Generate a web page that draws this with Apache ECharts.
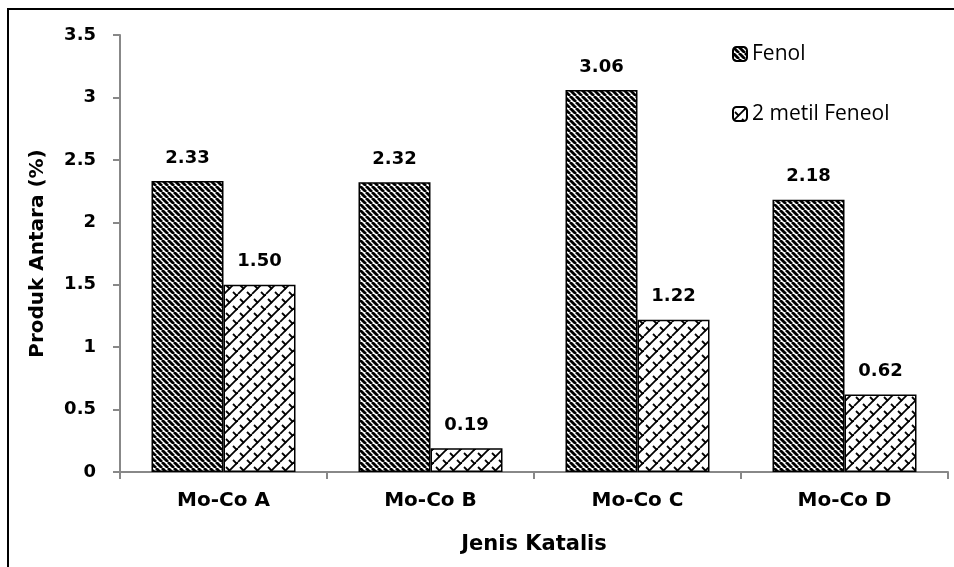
<!DOCTYPE html>
<html><head><meta charset="utf-8">
<script src="https://cdn.jsdelivr.net/npm/echarts@6/dist/echarts.min.js"></script>
<style>html,body{margin:0;padding:0;background:#fff}#c{width:954px;height:567px}</style>
</head><body><div id="c"></div>
<script>
const categories = ['Mo-Co A', 'Mo-Co B', 'Mo-Co C', 'Mo-Co D'];
const fenol = [2.33, 2.32, 3.06, 2.18];
const metilFenol = [1.50, 0.19, 1.22, 0.62];
const seriesNames = ['Fenol', '2 metil Feneol'];
const yTicks = [0, 0.5, 1, 1.5, 2, 2.5, 3, 3.5];

function stripePattern() {
  const c = document.createElement('canvas');
  c.width = 6; c.height = 6;
  const g = c.getContext('2d');
  g.fillStyle = '#fff'; g.fillRect(0, 0, 6, 6);
  g.strokeStyle = '#000'; g.lineWidth = 2.8;
  for (let k = -12; k <= 12; k += 6) {
    g.beginPath(); g.moveTo(k, 0); g.lineTo(k + 6, 6); g.stroke();
  }
  return c;
}
function brickPattern() {
  const s = 14;
  const c = document.createElement('canvas');
  c.width = s; c.height = s;
  const g = c.getContext('2d');
  g.fillStyle = '#fff'; g.fillRect(0, 0, s, s);
  g.strokeStyle = '#000'; g.lineWidth = 1.8;
  for (let k = -2 * s; k <= 2 * s; k += s) {
    g.beginPath(); g.moveTo(k, s); g.lineTo(k + s, 0); g.stroke();
  }
  const seg = (x, y) => { g.beginPath(); g.moveTo(x, y); g.lineTo(x + 4, y + 4); g.stroke(); };
  seg(2, 5); seg(9, 12); seg(9, -2); seg(-5, 5); seg(16, 5);
  return c;
}

const chart = echarts.init(document.getElementById('c'), null, {renderer: 'canvas'});
const boldFont = 'DejaVu Sans';
const labelCommon = {
  show: true, position: 'top', distance: 14,
  fontFamily: boldFont, fontWeight: 'bold', fontSize: 18, color: '#000',
  formatter: p => p.value.toFixed(2)
};
chart.setOption({
  animation: false,
  graphic: [{
    type: 'rect', shape: {x: 8, y: 9, width: 960, height: 580},
    style: {fill: 'none', stroke: '#000', lineWidth: 2}, z: -1
  }],
  grid: {left: 120, right: 6, top: 35, bottom: 95},
  legend: {
    orient: 'vertical', left: 727, top: 38,
    itemWidth: 14, itemHeight: 14, itemGap: 38,
    textStyle: {fontFamily: 'Open Sans', fontSize: 21, lineHeight: 22, color: '#000'},
    data: seriesNames
  },
  xAxis: {
    type: 'category', data: categories,
    axisLine: {lineStyle: {color: '#888', width: 2}},
    axisTick: {show: true, length: 7, lineStyle: {color: '#888', width: 2}},
    axisLabel: {fontFamily: boldFont, fontWeight: 'bold', fontSize: 20, color: '#000', margin: 19},
    name: 'Jenis Katalis', nameLocation: 'middle', nameGap: 62,
    nameTextStyle: {fontFamily: boldFont, fontWeight: 'bold', fontSize: 21, color: '#000'}
  },
  yAxis: {
    type: 'value', min: 0, max: 3.5, interval: 0.5,
    splitLine: {show: false},
    axisLine: {show: true, lineStyle: {color: '#888', width: 2}},
    axisTick: {show: true, length: 7, lineStyle: {color: '#888', width: 2}},
    axisLabel: {fontFamily: boldFont, fontWeight: 'bold', fontSize: 18, color: '#000', margin: 24,
      formatter: v => yTicks.includes(v) ? String(v) : ''},
    name: 'Produk Antara (%)', nameLocation: 'middle', nameGap: 72, nameRotate: 90,
    nameTextStyle: {fontFamily: boldFont, fontWeight: 'bold', fontSize: 20, color: '#000'}
  },
  series: [{
    name: seriesNames[0], type: 'bar', data: fenol, barWidth: 72, barGap: '0%',
    itemStyle: {color: {image: stripePattern(), repeat: 'repeat'}, borderColor: '#000', borderWidth: 1.5},
    label: labelCommon
  }, {
    name: seriesNames[1], type: 'bar', data: metilFenol, barWidth: 72,
    itemStyle: {color: {image: brickPattern(), repeat: 'repeat'}, borderColor: '#000', borderWidth: 1.5},
    label: labelCommon
  }]
});
</script></body></html>
